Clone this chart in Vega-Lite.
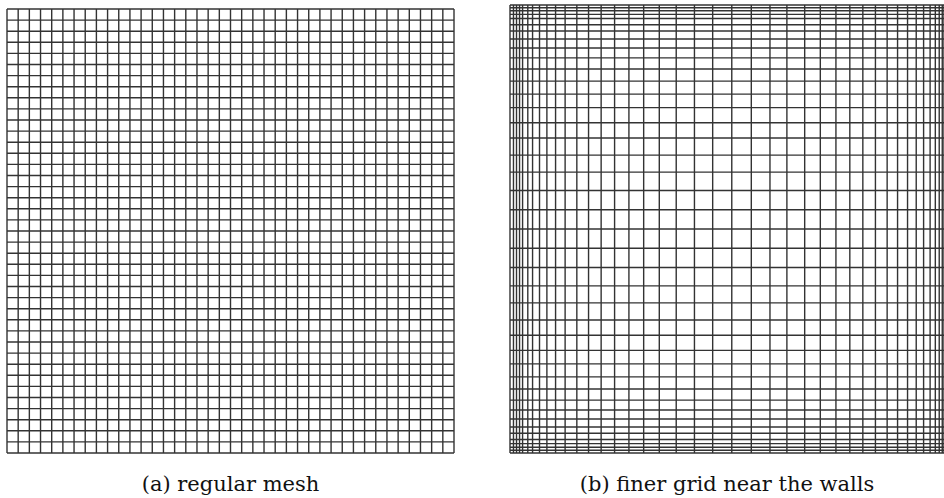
{
  "$schema": "https://vega.github.io/schema/vega-lite/v6.json",
  "description": "Regular mesh vs mesh refined near the walls",
  "padding": {"left": 6, "top": 4, "right": 0, "bottom": 0},
  "background": "white",
  "config": {
    "view": {"stroke": null},
    "title": {"font": "DejaVu Serif", "fontSize": 21, "fontWeight": "normal", "color": "#111", "anchor": "middle"}
  },
  "datasets": {
    "mesh_a": [
      {"p": 0}, {"p": 1}, {"p": 2}, {"p": 3}, {"p": 4}, {"p": 5}, {"p": 6}, {"p": 7}, {"p": 8}, {"p": 9},
      {"p": 10}, {"p": 11}, {"p": 12}, {"p": 13}, {"p": 14}, {"p": 15}, {"p": 16}, {"p": 17}, {"p": 18}, {"p": 19},
      {"p": 20}, {"p": 21}, {"p": 22}, {"p": 23}, {"p": 24}, {"p": 25}, {"p": 26}, {"p": 27}, {"p": 28}, {"p": 29},
      {"p": 30}, {"p": 31}, {"p": 32}, {"p": 33}, {"p": 34}, {"p": 35}, {"p": 36}, {"p": 37}, {"p": 38}, {"p": 39},
      {"p": 40}
    ],
    "mesh_b_x": [
      {"p": 0}, {"p": 0.008}, {"p": 0.015}, {"p": 0.022}, {"p": 0.029}, {"p": 0.041}, {"p": 0.052}, {"p": 0.068},
      {"p": 0.085}, {"p": 0.105}, {"p": 0.127}, {"p": 0.154}, {"p": 0.181}, {"p": 0.21}, {"p": 0.241}, {"p": 0.274},
      {"p": 0.308}, {"p": 0.344}, {"p": 0.383}, {"p": 0.425}, {"p": 0.467}, {"p": 0.511}, {"p": 0.556}, {"p": 0.599},
      {"p": 0.638}, {"p": 0.679}, {"p": 0.715}, {"p": 0.751}, {"p": 0.783}, {"p": 0.813}, {"p": 0.842}, {"p": 0.869},
      {"p": 0.893}, {"p": 0.916}, {"p": 0.936}, {"p": 0.953}, {"p": 0.968}, {"p": 0.98}, {"p": 0.989}, {"p": 0.996},
      {"p": 1}
    ],
    "mesh_b_y": [
      {"p": 0}, {"p": 0.006}, {"p": 0.013}, {"p": 0.021}, {"p": 0.03}, {"p": 0.044}, {"p": 0.058}, {"p": 0.076},
      {"p": 0.096}, {"p": 0.118}, {"p": 0.143}, {"p": 0.17}, {"p": 0.199}, {"p": 0.229}, {"p": 0.263}, {"p": 0.297},
      {"p": 0.335}, {"p": 0.373}, {"p": 0.414}, {"p": 0.457}, {"p": 0.5}, {"p": 0.543}, {"p": 0.586}, {"p": 0.627},
      {"p": 0.665}, {"p": 0.703}, {"p": 0.737}, {"p": 0.771}, {"p": 0.801}, {"p": 0.83}, {"p": 0.857}, {"p": 0.882},
      {"p": 0.904}, {"p": 0.924}, {"p": 0.942}, {"p": 0.956}, {"p": 0.97}, {"p": 0.979}, {"p": 0.987}, {"p": 0.994},
      {"p": 1}
    ]
  },
  "spacing": 54,
  "hconcat": [
    {
      "width": 447,
      "height": 448,
      "title": {"text": "(a) regular mesh", "orient": "bottom", "offset": 20},
      "layer": [
        {
          "data": {"name": "mesh_a"},
          "mark": {"type": "rule", "color": "#333333", "strokeWidth": 1.4},
          "encoding": {
            "x": {"field": "p", "type": "quantitative", "scale": {"domain": [0, 40], "nice": false, "zero": false}, "axis": null},
            "y": {"datum": 0, "type": "quantitative", "scale": {"domain": [0, 40.36], "nice": false, "zero": false}, "axis": null},
            "y2": {"datum": 40}
          }
        },
        {
          "data": {"name": "mesh_a"},
          "mark": {"type": "rule", "color": "#333333", "strokeWidth": 1.4},
          "encoding": {
            "y": {"field": "p", "type": "quantitative", "scale": {"domain": [0, 40.36], "nice": false, "zero": false}, "axis": null},
            "x": {"datum": 0, "type": "quantitative", "scale": {"domain": [0, 40], "nice": false, "zero": false}, "axis": null},
            "x2": {"datum": 40}
          }
        }
      ]
    },
    {
      "width": 434,
      "height": 448,
      "title": {"text": "(b) finer grid near the walls", "orient": "bottom", "offset": 20},
      "layer": [
        {
          "data": {"name": "mesh_b_x"},
          "mark": {"type": "rule", "color": "#333333", "strokeWidth": 1.4},
          "encoding": {
            "x": {"field": "p", "type": "quantitative", "scale": {"domain": [0, 1], "nice": false, "zero": false}, "axis": null},
            "y": {"datum": 0, "type": "quantitative", "scale": {"domain": [0, 1], "nice": false, "zero": false}, "axis": null},
            "y2": {"datum": 1}
          }
        },
        {
          "data": {"name": "mesh_b_y"},
          "mark": {"type": "rule", "color": "#333333", "strokeWidth": 1.4},
          "encoding": {
            "y": {"field": "p", "type": "quantitative", "scale": {"domain": [0, 1], "nice": false, "zero": false}, "axis": null},
            "x": {"datum": 0, "type": "quantitative", "scale": {"domain": [0, 1], "nice": false, "zero": false}, "axis": null},
            "x2": {"datum": 1}
          }
        }
      ]
    }
  ]
}
